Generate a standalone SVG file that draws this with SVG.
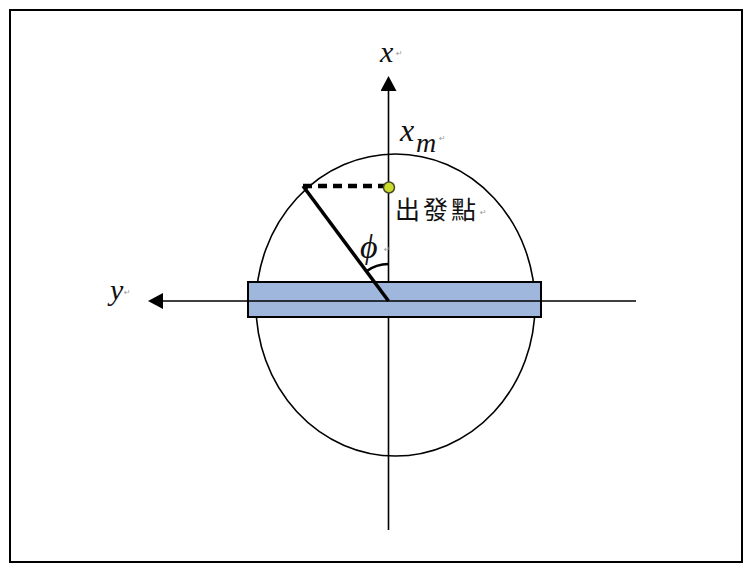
<svg xmlns="http://www.w3.org/2000/svg" width="745" height="565" viewBox="0 0 745 565">
<style>
.ax{stroke:#000;stroke-width:1.6;fill:none}
.mt{font-family:"Liberation Serif","DejaVu Serif",serif;font-style:italic;fill:#111}
.pm{font-family:"DejaVu Sans",sans-serif;font-size:8px;fill:#999}
.cjk{font-family:"Noto Sans CJK TC","Noto Sans CJK SC",sans-serif;font-size:25px;fill:#111;letter-spacing:3px}
</style>
<defs>
<marker id="arr" viewBox="0 0 15 16" refX="1" refY="8" markerWidth="15" markerHeight="16" markerUnits="userSpaceOnUse" orient="auto">
<path d="M0,0 L15,8 L0,16 z" fill="#000"/>
</marker>
</defs>
<rect x="0" y="0" width="745" height="565" fill="#fff"/>
<rect id="frame" x="10" y="10" width="732" height="552" fill="none" stroke="#000" stroke-width="2"/>
<g id="orbit">
<ellipse cx="395.5" cy="305" rx="139.5" ry="151" fill="none" stroke="#000" stroke-width="1.6"/>
</g>
<g id="connectors">
<line class="ax" x1="388.5" y1="530" x2="388.5" y2="90" marker-end="url(#arr)"/>
</g>
<g id="bar">
<rect x="248" y="282" width="293" height="35" fill="#9fb7dc" stroke="#000" stroke-width="2"/>
</g>
<g id="connectors2">
<line class="ax" x1="636" y1="301" x2="162" y2="301" marker-end="url(#arr)"/>
<line x1="303" y1="186" x2="388.5" y2="301" stroke="#000" stroke-width="3.5"/>
<path d="M366.4,271.3 A37,37 0 0,1 388.5,264" fill="none" stroke="#000" stroke-width="2.5"/>
<line x1="303" y1="186" x2="384" y2="186" stroke="#000" stroke-width="4.5" stroke-dasharray="9,6"/>
</g>
<g id="start-point">
<circle cx="389" cy="187.5" r="5.5" fill="#c9dc2a" stroke="#4a4a2a" stroke-width="1.5"/>
<text class="cjk" x="395" y="219">出發點</text>
<text class="pm" x="480" y="215">↵</text>
</g>
<g id="label-x">
<text class="mt" x="380" y="62" font-size="30">x</text>
<text class="pm" x="396" y="56">↵</text>
</g>
<g id="label-xm">
<text class="mt" x="400" y="141" font-size="32">x</text>
<text class="mt" x="416" y="152" font-size="28">m</text>
<text class="pm" x="439" y="141">↵</text>
</g>
<g id="label-y">
<text class="mt" x="110" y="300" font-size="30">y</text>
<text class="pm" x="124" y="295">↵</text>
</g>
<g id="label-phi">
<text class="mt" x="360" y="258" font-size="34">ϕ</text>
<text class="pm" x="384" y="252">↵</text>
</g>
</svg>
